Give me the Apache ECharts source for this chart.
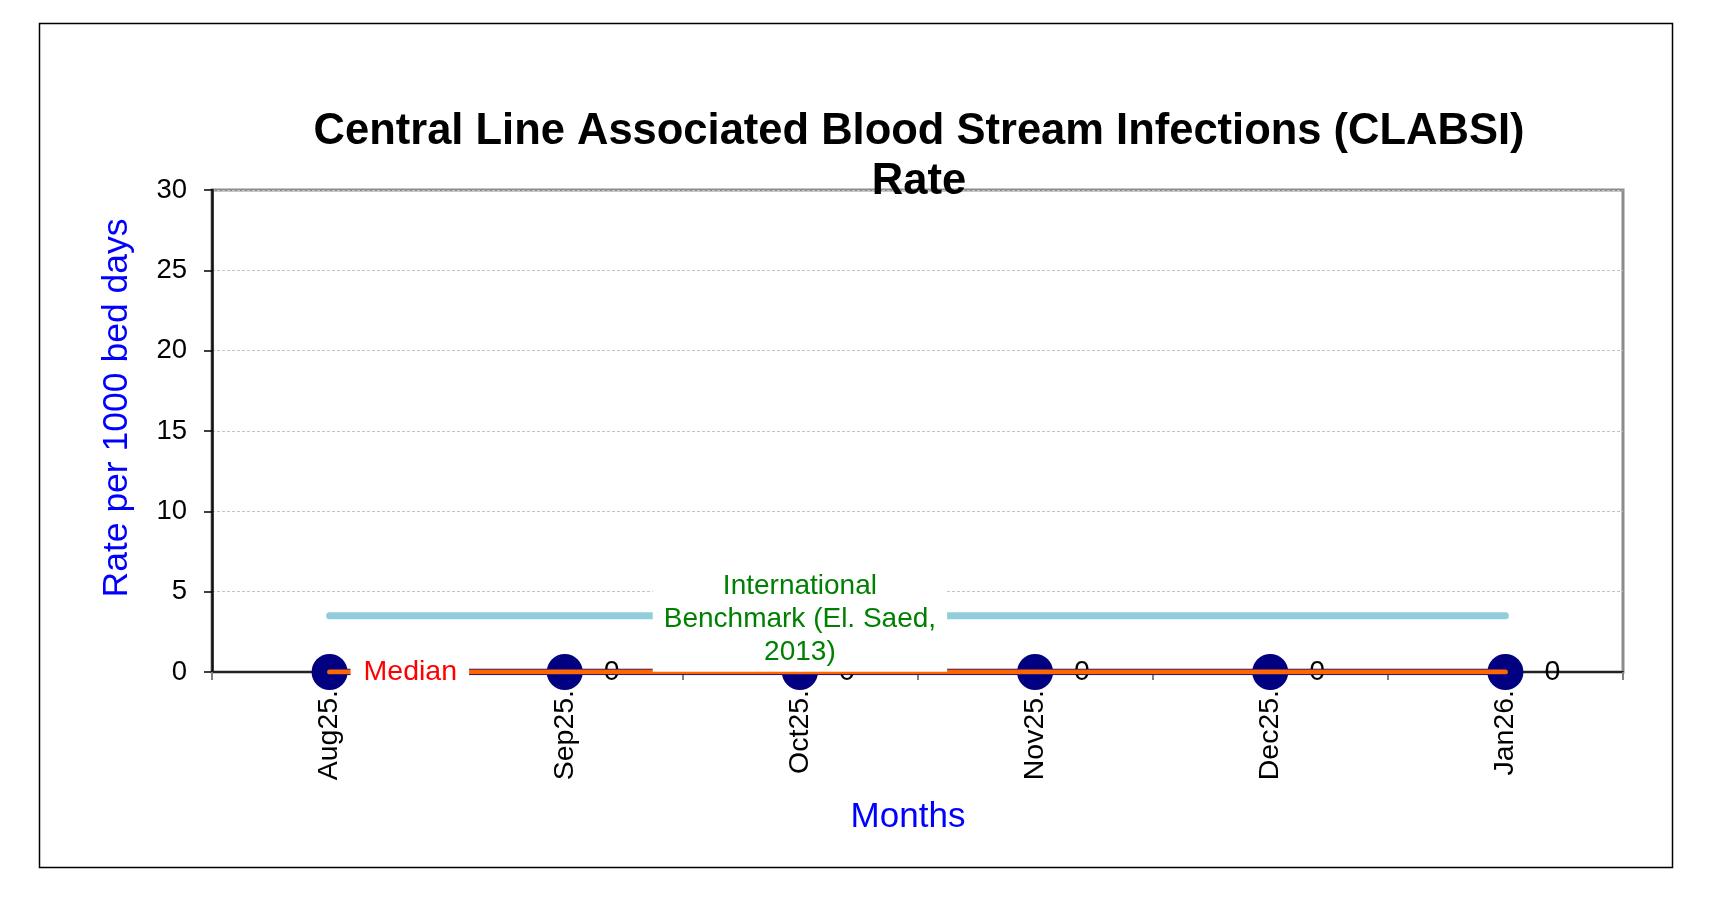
<!DOCTYPE html>
<html>
<head>
<meta charset="utf-8">
<script src="https://cdn.jsdelivr.net/npm/echarts@6/dist/echarts.min.js"></script>
<style>
html,body{margin:0;padding:0;background:#fff;}
#chart{width:1725px;height:901px;}
</style>
</head>
<body>
<div id="chart"></div>
<script>
const months = ['Aug25.', 'Sep25.', 'Oct25.', 'Nov25.', 'Dec25.', 'Jan26.'];
const rates = [0, 0, 0, 0, 0, 0];
const median = [0, 0, 0, 0, 0, 0];
const benchmark = [3.5, 3.5, 3.5, 3.5, 3.5, 3.5];
const yMin = 0, yMax = 30, yStep = 5;
const titleText = 'Central Line Associated Blood Stream Infections (CLABSI)\nRate';
const yName = 'Rate per 1000 bed days';
const xName = 'Months';
const medianLabel = 'Median';
const benchLabel = 'International\nBenchmark (El. Saed,\n2013)';
const benchLabelIndex = 2;

const FONT = 'Liberation Sans, Arial, sans-serif';
const chart = echarts.init(document.getElementById('chart'));

const option = {
  animation: false,
  backgroundColor: '#fff',
  title: {
    text: titleText,
    left: 914,
    top: 102,
    textAlign: 'center',
    textStyle: { fontFamily: FONT, fontSize: 43.5, fontWeight: 'bold', color: '#000', lineHeight: 50 }
  },
  grid: {
    left: 212, top: 190, right: 102, bottom: 229,
    show: true, borderColor: '#8c8c8c', borderWidth: 3, backgroundColor: 'transparent'
  },
  graphic: [
    { type: 'rect', silent: true, z: -1,
      shape: { x: 39.5, y: 23.5, width: 1633, height: 844 },
      style: { fill: 'none', stroke: '#000', lineWidth: 1.5 } },
    { type: 'text', x: 117, y: 408, rotation: Math.PI / 2,
      style: { text: yName, fontFamily: FONT, fontSize: 35.5, fill: '#0000ff', align: 'center', verticalAlign: 'middle' } },
    { type: 'text', x: 908, y: 817,
      style: { text: xName, fontFamily: FONT, fontSize: 35, fill: '#0000ff', align: 'center', verticalAlign: 'middle' } }
  ],
  xAxis: {
    type: 'category',
    data: months,
    boundaryGap: true,
    axisLine: { lineStyle: { color: '#222', width: 2 } },
    axisTick: { show: true, length: 8, lineStyle: { color: '#808080', width: 2 } },
    axisLabel: { rotate: 90, margin: 18, fontFamily: FONT, fontSize: 28.5, color: '#000' },
    splitLine: { show: false }
  },
  yAxis: {
    type: 'value',
    min: yMin, max: yMax, interval: yStep,
    axisLine: { show: true, lineStyle: { color: '#111', width: 2.5 } },
    axisTick: { show: true, length: 8, lineStyle: { color: '#000', width: 1.5 } },
    axisLabel: { margin: 25, fontFamily: FONT, fontSize: 27.5, color: '#000' },
    splitLine: { show: true, lineStyle: { color: '#c4c4c4', type: [3, 2], width: 1 } }
  },
  series: [
    {
      name: 'Rate',
      type: 'line',
      z: 2,
      data: rates,
      symbol: 'circle',
      symbolSize: 36,
      itemStyle: { color: '#000080' },
      lineStyle: { color: '#000080', width: 6.5 },
      label: { show: true, position: 'right', distance: 21, fontFamily: FONT, fontSize: 28.5, color: '#000' }
    },
    {
      name: 'Median',
      type: 'line',
      z: 3,
      data: median.map((v, i) => i === 0 ? {
        value: v,
        label: { show: true, formatter: medianLabel, position: 'right', distance: 21,
          fontFamily: FONT, fontSize: 28.5, color: '#ff0000', backgroundColor: '#fff', padding: [7, 12, 4, 13] }
      } : v),
      symbol: 'circle',
      symbolSize: 0,
      itemStyle: { color: '#ff6600' },
      lineStyle: { color: '#ff6600', width: 5, cap: 'round' },
      label: { show: false }
    },
    {
      name: 'Benchmark',
      type: 'line',
      z: 4,
      data: benchmark.map((v, i) => i === benchLabelIndex ? {
        value: v,
        label: { show: true, formatter: benchLabel, position: 'inside', offset: [0, 4],
          fontFamily: FONT, fontSize: 28, lineHeight: 33, color: '#008000', align: 'center',
          backgroundColor: '#fff', padding: [4, 11, 1, 11] }
      } : v),
      symbol: 'circle',
      symbolSize: 0,
      itemStyle: { color: '#92cddc' },
      lineStyle: { color: '#92cddc', width: 7, cap: 'round' },
      label: { show: false }
    }
  ]
};
chart.setOption(option);
</script>
</body>
</html>
